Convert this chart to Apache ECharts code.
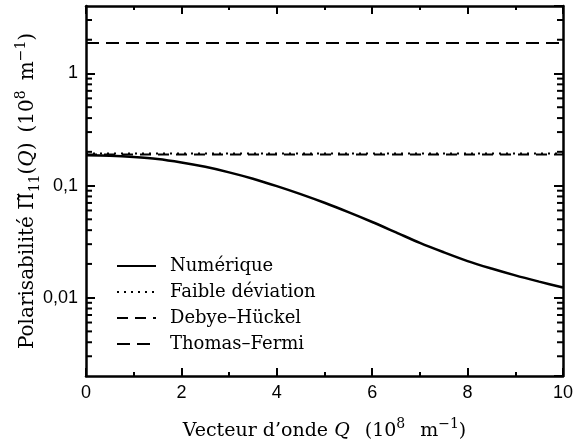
<!DOCTYPE html>
<html>
<head>
<meta charset="utf-8">
<script src="https://cdn.jsdelivr.net/npm/echarts@6/dist/echarts.min.js"></script>
<style>html,body{margin:0;padding:0;background:#fff;}#c{width:582px;height:448px;}</style>
</head>
<body>
<div id="c"></div>
<script>
// ---- data ----
var qValues = [0, 0.5, 1, 1.5, 2, 2.5, 3, 3.5, 4, 4.5, 5, 5.5, 6, 6.5, 7, 7.5, 8, 8.5, 9, 9.5, 10];
var numerique = [0.1862, 0.1845, 0.1799, 0.1726, 0.1607, 0.1469, 0.1312, 0.1151, 0.0989, 0.0839, 0.0702, 0.0579, 0.0473, 0.0382, 0.0308, 0.0254, 0.0212, 0.0182, 0.0158, 0.0139, 0.0123];
var faibleDeviation = 0.193;
var debyeHuckel = 0.189;
var thomasFermi = 1.87;
var qRange = [0, 10];
var yRange = [0.002, 4];
var yMinorTicks = [0.003, 0.004, 0.005, 0.006, 0.007, 0.008, 0.009,
  0.02, 0.03, 0.04, 0.05, 0.06, 0.07, 0.08, 0.09,
  0.2, 0.3, 0.4, 0.5, 0.6, 0.7, 0.8, 0.9, 2, 3];
var seriesNames = ['Numérique', 'Faible déviation', 'Debye–Hückel', 'Thomas–Fermi'];

function pairs(xs, ys) { return xs.map(function (x, i) { return [x, ys[i]]; }); }
function flat(v) { return [[qRange[0], v], [qRange[1], v]]; }

var serif = 'DejaVu Serif';
function makeRich(fs, sfs, sw) {
  return {
    n: { fontFamily: serif, fontSize: fs, color: '#000', lineHeight: 28 },
    s: { fontFamily: serif, fontSize: fs, color: '#000', lineHeight: 28, width: sw },
    i: { fontFamily: serif, fontSize: fs, fontStyle: 'italic', color: '#000', lineHeight: 28 },
    sup: { fontFamily: serif, fontSize: sfs, color: '#000', lineHeight: 14, verticalAlign: 'top' },
    sub: { fontFamily: serif, fontSize: sfs, color: '#000', lineHeight: 14, verticalAlign: 'bottom' }
  };
}
var axisLineStyle = { show: true, onZero: false, lineStyle: { color: '#000', width: 2.5 } };

var chart = echarts.init(document.getElementById('c'), null, { renderer: 'canvas' });
var option = {
  animation: false,
  backgroundColor: '#fff',
  grid: { left: 86, right: 19, top: 6, bottom: 72, containLabel: false, outerBoundsMode: 'none' },
  legend: {
    data: seriesNames,
    orient: 'vertical',
    left: 111, top: 252,
    itemWidth: 39, itemHeight: 16, itemGap: 8,
    itemStyle: { opacity: 0 },
    textStyle: { fontFamily: serif, fontSize: 18, color: '#000', padding: [0, 0, 0, 9] },
    selectedMode: false
  },
  xAxis: [{
    type: 'value', min: qRange[0], max: qRange[1], interval: 2,
    name: '{n|Vecteur d\u2019onde }{i|Q}{s| }{n|(10}{sup|8}{s| }{n|m}{sup|\u22121}{n|)}',
    nameLocation: 'middle', nameGap: 41, nameMoveOverlap: false,
    nameTextStyle: { rich: makeRich(19, 14, 15) },
    axisLine: axisLineStyle,
    axisTick: { show: true, inside: true, length: 8, lineStyle: { color: '#000', width: 2 } },
    minorTick: { show: true, splitNumber: 2, length: 4, lineStyle: { color: '#000', width: 2 } },
    axisLabel: { color: '#000', fontFamily: 'Liberation Sans', fontSize: 18, margin: 8 },
    splitLine: { show: false }
  }, {
    type: 'value', min: qRange[0], max: qRange[1], interval: 2, position: 'top',
    axisLine: axisLineStyle,
    axisTick: { show: true, inside: true, length: 8, lineStyle: { color: '#000', width: 2 } },
    minorTick: { show: true, splitNumber: 2, length: 4, lineStyle: { color: '#000', width: 2 } },
    axisLabel: { show: false },
    splitLine: { show: false }
  }],
  yAxis: [{
    type: 'log', min: yRange[0], max: yRange[1], logBase: 10,
    name: '{n|Polarisabilit\u00e9 \u03a0\u0303}{sub|11}{n|(}{i|Q}{n|)}{s| }{n|(10}{sup|8}{s| }{n|m}{sup|\u22121}{n|)}',
    nameLocation: 'middle', nameGap: 44, nameRotate: 90, nameMoveOverlap: false,
    nameTextStyle: { rich: makeRich(20, 14, 10) },
    axisLine: axisLineStyle,
    axisTick: { show: true, inside: true, length: 9, lineStyle: { color: '#000', width: 2 } },
    axisLabel: {
      color: '#000', fontFamily: 'Liberation Sans', fontSize: 18, margin: 8,
      showMinLabel: false, showMaxLabel: false,
      formatter: function (v) { return String(Number(v.toPrecision(3))).replace('.', ','); }
    },
    splitLine: { show: false }
  }, {
    type: 'log', min: yRange[0], max: yRange[1], logBase: 10, position: 'right',
    axisLine: axisLineStyle,
    axisTick: { show: true, inside: true, length: 9, lineStyle: { color: '#000', width: 2 } },
    axisLabel: { show: false },
    splitLine: { show: false }
  }],
  series: [
    {
      name: seriesNames[0], type: 'line', data: pairs(qValues, numerique), smooth: 0.3,
      showSymbol: false, symbol: 'none', lineStyle: { color: '#000', width: 2.5, type: 'solid' }, itemStyle: { color: '#000' }, z: 5
    },
    {
      name: seriesNames[2], type: 'line', data: flat(debyeHuckel),
      showSymbol: false, symbol: 'none', lineStyle: { color: '#000', width: 2, type: [11, 7] }, itemStyle: { color: '#000' }
    },
    {
      name: seriesNames[1], type: 'line', data: flat(faibleDeviation),
      showSymbol: false, symbol: 'none', lineStyle: { color: '#000', width: 2, type: [2, 5] }, itemStyle: { color: '#000' }
    },
    {
      name: seriesNames[3], type: 'line', data: flat(thomasFermi),
      showSymbol: false, symbol: 'none', lineStyle: { color: '#000', width: 2, type: [13, 7] }, itemStyle: { color: '#000' }
    },
    {
      name: 'minorTicks', type: 'custom', silent: true,
      data: yMinorTicks.map(function (v) { return [qRange[0], v]; }),
      encode: { x: 0, y: 1 },
      renderItem: function (params, api) {
        var v = api.value(1);
        var p = api.coord([qRange[0], v]);
        var q = api.coord([qRange[1], v]);
        var st = { stroke: '#000', lineWidth: 2 };
        return {
          type: 'group', children: [
            { type: 'line', shape: { x1: p[0], y1: p[1], x2: p[0] + 6, y2: p[1] }, style: st },
            { type: 'line', shape: { x1: q[0], y1: q[1], x2: q[0] - 6, y2: q[1] }, style: st }
          ]
        };
      }
    }
  ]
};
chart.setOption(option);
</script>
</body>
</html>
